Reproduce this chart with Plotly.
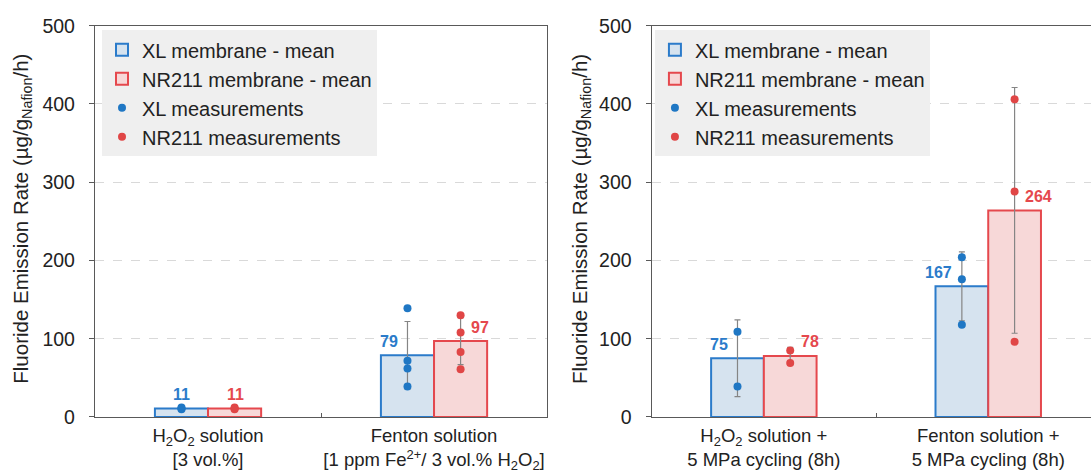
import plotly.graph_objects as go

# ---------------- data ----------------
categories_left = [
    "H<sub>2</sub>O<sub>2</sub> solution<br>[3 vol.%]",
    "Fenton solution<br>[1 ppm Fe<sup>2+</sup>/ 3 vol.% H<sub>2</sub>O<sub>2</sub>]",
]
categories_right = [
    "H<sub>2</sub>O<sub>2</sub> solution +<br>5 MPa cycling (8h)",
    "Fenton solution +<br>5 MPa cycling (8h)",
]

xl_mean_left = [11, 79]
nr_mean_left = [11, 97]
xl_err_left = [1, 43]
nr_err_left = [1, 30]
xl_points_left = [[10, 11, 12], [139, 72, 62, 39]]
nr_points_left = [[10, 11, 12], [130, 108, 83, 61]]

xl_mean_right = [75, 167]
nr_mean_right = [78, 264]
xl_err_right = [49, 44]
nr_err_right = [11, 157]
xl_points_right = [[109, 39], [204, 176, 118]]
nr_points_right = [[85, 69], [406, 288, 96]]

# label placement style per category: "top" = centred above bar, "side" = beside error bar
label_style_left = ["top", "side"]
label_style_right = ["side", "side"]

# ---------------- style ----------------
BLUE_LINE = "#2b7bca"
BLUE_FILL = "#d6e3ef"
BLUE_DOT = "#1f77c4"
RED_LINE = "#e5484d"
RED_FILL = "#f7d8d8"
RED_DOT = "#e04646"
AXIS = "#595959"
FONT = "Arial, Liberation Sans, sans-serif"

fig = go.Figure()


def add_panel(cats, xl_mean, nr_mean, xl_err, nr_err, xl_pts, nr_pts, xa, ya, legend):
    fig.add_trace(go.Bar(
        x=cats, y=xl_mean, name="XL membrane - mean", offsetgroup="XL",
        marker=dict(color=BLUE_FILL, line=dict(color=BLUE_LINE, width=2)),
        error_y=dict(type="data", array=xl_err, color="#858585", thickness=1.2, width=3),
        xaxis=xa, yaxis=ya, legend=legend,
    ))
    fig.add_trace(go.Bar(
        x=cats, y=nr_mean, name="NR211 membrane - mean", offsetgroup="NR",
        marker=dict(color=RED_FILL, line=dict(color=RED_LINE, width=2)),
        error_y=dict(type="data", array=nr_err, color="#858585", thickness=1.2, width=3),
        xaxis=xa, yaxis=ya, legend=legend,
    ))
    xs, ys = [], []
    for c, pts in zip(cats, xl_pts):
        for p in pts:
            xs.append(c)
            ys.append(p)
    fig.add_trace(go.Scatter(
        x=xs, y=ys, mode="markers", name="XL measurements", offsetgroup="XL",
        orientation="v", marker=dict(color=BLUE_DOT, size=8),
        xaxis=xa, yaxis=ya, legend=legend,
    ))
    xs, ys = [], []
    for c, pts in zip(cats, nr_pts):
        for p in pts:
            xs.append(c)
            ys.append(p)
    fig.add_trace(go.Scatter(
        x=xs, y=ys, mode="markers", name="NR211 measurements", offsetgroup="NR",
        orientation="v", marker=dict(color=RED_DOT, size=8),
        xaxis=xa, yaxis=ya, legend=legend,
    ))


add_panel(categories_left, xl_mean_left, nr_mean_left, xl_err_left, nr_err_left,
          xl_points_left, nr_points_left, "x", "y", "legend")
add_panel(categories_right, xl_mean_right, nr_mean_right, xl_err_right, nr_err_right,
          xl_points_right, nr_points_right, "x2", "y2", "legend2")

# value labels
annotations = []
BAR_OFF = 27  # px from category centre to bar centre


def add_labels(cats, xl_mean, nr_mean, styles, xref, yref):
    for c, xv, nv, st in zip(cats, xl_mean, nr_mean, styles):
        if st == "top":
            annotations.append(dict(x=c, y=xv, xref=xref, yref=yref, text=f"<b>{xv}</b>",
                                    showarrow=False, xanchor="center", yanchor="middle",
                                    xshift=-BAR_OFF, yshift=14,
                                    font=dict(color=BLUE_LINE, size=16, family=FONT)))
            annotations.append(dict(x=c, y=nv, xref=xref, yref=yref, text=f"<b>{nv}</b>",
                                    showarrow=False, xanchor="center", yanchor="middle",
                                    xshift=BAR_OFF, yshift=14,
                                    font=dict(color=RED_LINE, size=16, family=FONT)))
        else:
            annotations.append(dict(x=c, y=xv, xref=xref, yref=yref, text=f"<b>{xv}</b>",
                                    showarrow=False, xanchor="right", yanchor="middle",
                                    xshift=-BAR_OFF - 7, yshift=14,
                                    font=dict(color=BLUE_LINE, size=16, family=FONT)))
            annotations.append(dict(x=c, y=nv, xref=xref, yref=yref, text=f"<b>{nv}</b>",
                                    showarrow=False, xanchor="left", yanchor="middle",
                                    xshift=BAR_OFF + 8, yshift=14,
                                    font=dict(color=RED_LINE, size=16, family=FONT)))


add_labels(categories_left, xl_mean_left, nr_mean_left, label_style_left, "x", "y")
add_labels(categories_right, xl_mean_right, nr_mean_right, label_style_right, "x2", "y2")

ytitle = "Fluoride Emission Rate (µg/g<sub>Nafion</sub>/h)"
for xp in (0.0199, 0.5325):
    annotations.append(dict(x=xp, y=0.537, xref="paper", yref="paper", text=ytitle,
                            textangle=-90, showarrow=False, xanchor="center", yanchor="middle",
                            font=dict(size=20.5, family=FONT, color="#222")))

yaxis_common = dict(
    range=[0, 500], dtick=100, showline=True, linecolor=AXIS, linewidth=1.3,
    ticks="outside", ticklen=5, tickcolor=AXIS, showgrid=True, gridcolor="#d9d9d9",
    griddash="dash", gridwidth=1, zeroline=False, automargin=False,
    tickfont=dict(size=19.5), ticklabelstandoff=10, domain=[0.1184, 0.9457],
)
xaxis_common = dict(
    type="category", showline=True, linecolor=AXIS, linewidth=1.3, mirror=True,
    ticks="inside", tickson="boundaries", ticklen=4, tickcolor=AXIS, showgrid=False,
    automargin=False, tickfont=dict(size=18.5), ticklabelstandoff=2, tickangle=0,
)

legend_common = dict(
    xanchor="left", yanchor="top", bgcolor="#efefef", borderwidth=0,
    font=dict(size=20, family=FONT, color="#222"), traceorder="normal",
)

fig.update_layout(
    width=1091, height=473, margin=dict(l=0, r=0, t=0, b=0),
    plot_bgcolor="white", paper_bgcolor="white",
    barmode="group", bargap=0.53, bargroupgap=0,
    scattermode="group", scattergap=0.53,
    font=dict(family=FONT, size=18, color="#222"),
    xaxis=dict(xaxis_common, domain=[0.0871, 0.5014], anchor="y", range=[-0.5, 1.5]),
    xaxis2=dict(xaxis_common, domain=[0.5973, 1.0], anchor="y2", range=[-0.5, 1.458]),
    yaxis=dict(yaxis_common, anchor="x", mirror=True),
    yaxis2=dict(yaxis_common, anchor="x2", mirror=False),
    legend=dict(legend_common, x=0.0935, y=0.936),
    legend2=dict(legend_common, x=0.6003, y=0.936),
    annotations=annotations,
    showlegend=True,
)

fig.write_html("out.html", config={"displayModeBar": False},
               post_script="document.body.style.margin='0px';")
